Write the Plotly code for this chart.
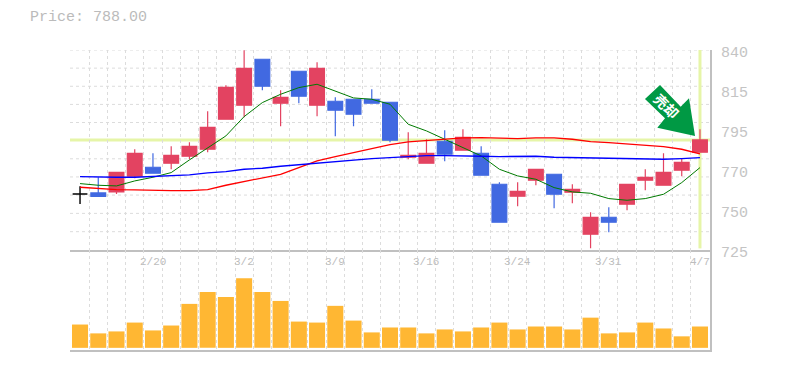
import plotly.graph_objects as go
from plotly.subplots import make_subplots

FONT = "Liberation Mono"
days = list(range(35))
date_pos = [4, 9, 14, 19, 24, 29, 34]
date_labels = ["2/20", "3/2", "3/9", "3/16", "3/24", "3/31", "4/7"]

opens = [757.64, 758.2, 758.77, 767.58, 772.64, 774.89, 778.83, 782.76, 799.64, 807.52, 833.39, 808.64,
         826.64, 807.52, 809.77, 810.89, 810.89, 809.2, 778.27, 774.89, 787.27, 782.2, 780.52, 763.08,
         756.33, 765.33, 768.7, 758.58, 734.95, 744.52, 751.83, 765.33, 762.52, 770.95, 781.08]
highs = [761.96, 767.0, 769.83, 782.76, 780.5, 784.45, 786.7, 804.14, 818.77, 838.45, 833.39, 815.95,
         826.64, 831.7, 812.02, 810.89, 816.52, 809.2, 792.33, 788.39, 793.45, 794.02, 784.45, 764.2,
         764.2, 771.52, 768.7, 763.08, 747.33, 750.14, 763.08, 771.52, 780.52, 777.7, 794.02]
lows = [752.02, 755.95, 757.64, 766.45, 769.27, 771.52, 777.14, 781.08, 799.64, 800.77, 815.95, 795.7,
        808.64, 801.33, 790.08, 795.7, 808.64, 786.7, 777.14, 774.89, 776.02, 782.2, 768.14, 741.7,
        750.7, 762.52, 749.58, 752.39, 727.08, 736.08, 748.45, 759.7, 762.52, 767.58, 781.08]
closes = [757.64, 756.3, 769.83, 780.5, 769.27, 779.39, 784.45, 795.14, 817.64, 828.33, 818.2, 812.02,
          812.58, 828.33, 804.7, 802.45, 808.64, 787.83, 779.39, 780.52, 779.95, 789.52, 768.14, 741.7,
          759.14, 771.52, 757.45, 760.27, 744.52, 741.7, 763.08, 767.02, 769.83, 775.45, 788.0]
ma_short = [763.45, 762.52, 762.14, 764.95, 767.02, 769.64, 776.77, 783.33, 790.27, 801.14, 809.02, 813.7,
            817.45, 819.33, 815.58, 811.64, 810.89, 808.08, 796.83, 793.08, 788.39, 783.7, 779.02, 771.52,
            767.77, 765.89, 761.2, 758.77, 758.02, 755.02, 754.08, 755.02, 757.45, 764.02, 772.45]
ma_mid = [761.39, 760.64, 760.08, 759.89, 759.52, 759.52, 759.52, 760.08, 762.52, 764.58, 766.45, 768.7,
          772.45, 776.2, 778.64, 780.89, 783.14, 785.39, 786.89, 787.64, 788.39, 789.14, 789.33, 788.95,
          788.77, 789.14, 789.14, 788.39, 787.08, 786.52, 785.77, 785.02, 784.27, 782.77, 780.14]
ma_long = [767.39, 767.02, 767.02, 767.02, 767.39, 767.77, 768.33, 769.45, 770.2, 771.52, 772.08, 773.2,
           774.14, 775.08, 775.83, 776.95, 777.52, 778.08, 778.64, 779.2, 779.2, 779.2, 778.83, 778.64,
           778.64, 778.83, 778.27, 778.08, 777.52, 777.52, 777.14, 777.14, 777.14, 777.52, 778.08]
volumes = [237, 147, 167, 257, 177, 227, 447, 567, 517, 707, 567, 477, 267, 257, 427, 277, 157, 207,
           207, 147, 187, 167, 207, 257, 187, 217, 217, 187, 307, 147, 157, 257, 197, 117, 217]
price_ticks = [838.6, 816.1, 793.6, 771.1, 748.6, 726.1]
price_labels = ["840", "815", "795", "770", "750", "725"]
grid_prices = [838.6, 828.4, 818.2, 808.0, 797.8, 788.0, 777.4, 767.2, 757.0, 746.7, 736.4]
last_price = 788.0
price_text = "Price: 788.00"
signal_text = "<b>売却</b>"

RED = "#e34361"
BLUE = "#4169e1"
GRID = "#dcdcdc"
AXIS = "#c0c0c0"
TEXT = "#c4c4c4"

fig = make_subplots(rows=2, cols=1, shared_xaxes=False, vertical_spacing=0,
                    row_heights=[2, 1])

fig.add_trace(go.Candlestick(x=days[1:], open=opens[1:], high=highs[1:], low=lows[1:], close=closes[1:],
                             increasing=dict(line=dict(color=RED, width=1.2), fillcolor=RED),
                             decreasing=dict(line=dict(color=BLUE, width=1.2), fillcolor=BLUE),
                             whiskerwidth=0, hoverinfo="skip"), row=1, col=1)
fig.add_trace(go.Candlestick(x=days[:1], open=opens[:1], high=highs[:1],
                             low=lows[:1], close=closes[:1],
                             increasing=dict(line=dict(color="#000000", width=1.4), fillcolor="#000000"),
                             decreasing=dict(line=dict(color="#000000", width=1.4), fillcolor="#000000"),
                             whiskerwidth=0, hoverinfo="skip"), row=1, col=1)
for values, color, w in [(ma_short, "#007a00", 1), (ma_mid, "#ff0000", 1.3), (ma_long, "#0000ff", 1.3)]:
    fig.add_trace(go.Scatter(x=days, y=values, mode="lines", line=dict(color=color, width=w),
                             hoverinfo="skip"), row=1, col=1)
fig.add_trace(go.Bar(x=days, y=volumes, marker=dict(color="#ffb733", line=dict(width=0)),
                     width=0.88, hoverinfo="skip"), row=2, col=1)

x_range = [-0.55, 34.55]
common_x = dict(range=x_range, tick0=-0.5, dtick=1, showgrid=True, gridcolor=GRID, griddash="3px,3px",
                gridwidth=1, zeroline=False, showline=True, linecolor=AXIS, linewidth=2, ticks="",
                showticklabels=False, rangeslider=dict(visible=False))
fig.update_xaxes(**common_x, row=1, col=1)
fig.update_xaxes(**common_x, row=2, col=1)

fig.update_yaxes(range=[726.1, 838.6], side="right", showticklabels=False, showgrid=False, zeroline=False,
                 ticks="", showline=True, linecolor=AXIS, linewidth=2, row=1, col=1)
fig.update_yaxes(range=[-22, 995], side="right", showgrid=False, zeroline=False, ticks="", showline=True,
                 linecolor=AXIS, linewidth=2, showticklabels=False, row=2, col=1)

shapes = []
for g in grid_prices:
    shapes.append(dict(type="line", xref="x", yref="y", x0=x_range[0], x1=x_range[1], y0=g, y1=g,
                       layer="below", line=dict(color=GRID, width=1, dash="3px,3px")))
shapes.append(dict(type="line", xref="x", yref="y", x0=x_range[0], x1=x_range[1], y0=last_price, y1=last_price,
                   layer="below", line=dict(color="#e6f5a8", width=3)))
shapes.append(dict(type="line", xref="x", yref="y", x0=34, x1=34, y0=727, y1=838.6,
                   layer="below", line=dict(color="#e6f5a8", width=3)))
# signal arrow outline, in page pixels converted to paper fractions
arrow = [(660, 85), (645, 99), (665, 118.3), (657.3, 127.7), (695, 136), (689, 98.3), (680.7, 106.7)]
def px(p):
    return (p[0] - 70) / 640, 1 - (p[1] - 50) / 300
path = "M " + " L ".join(f"{px(p)[0]:.4f} {px(p)[1]:.4f}" for p in arrow) + " Z"
shapes.append(dict(type="path", xref="paper", yref="paper", path=path, fillcolor="#009944",
                   line=dict(width=0), layer="above"))

annotations = [dict(x=p, xref="x2", y=1, yref="y2 domain", yanchor="middle", yshift=-12, text=t, showarrow=False,
                    font=dict(family=FONT, size=11, color="#bdbdbd"))
               for p, t in zip(date_pos, date_labels)]
annotations += [dict(x=1 + 9 / 640, xref="paper", xanchor="left", y=v, yref="y", yanchor="middle", yshift=-3, text=t,
                     showarrow=False, font=dict(family=FONT, size=15, color=TEXT))
                for v, t in zip(price_ticks, price_labels)]
annotations.append(dict(x=-42 / 640, xref="paper", xanchor="left", y=1 + 32 / 300, yref="paper", yanchor="middle",
                        text=price_text, showarrow=False, font=dict(family=FONT, size=15, color="#bbbbbb")))
annotations.append(dict(x=(667 - 70) / 640, xref="paper", xanchor="center", y=1 - (105.5 - 50) / 300, yref="paper",
                        yanchor="middle", text=signal_text, textangle=45, showarrow=False,
                        font=dict(family="Noto Sans CJK JP", size=14, color="#ffffff")))

fig.update_layout(width=777, height=362, margin=dict(l=62, r=75, t=42, b=20), showlegend=False,
                  paper_bgcolor="#ffffff", plot_bgcolor="#ffffff", boxmode="overlay", boxgap=0.19, boxgroupgap=0,
                  shapes=shapes, annotations=annotations)
fig.write_html("out.html", config=dict(displayModeBar=False))
